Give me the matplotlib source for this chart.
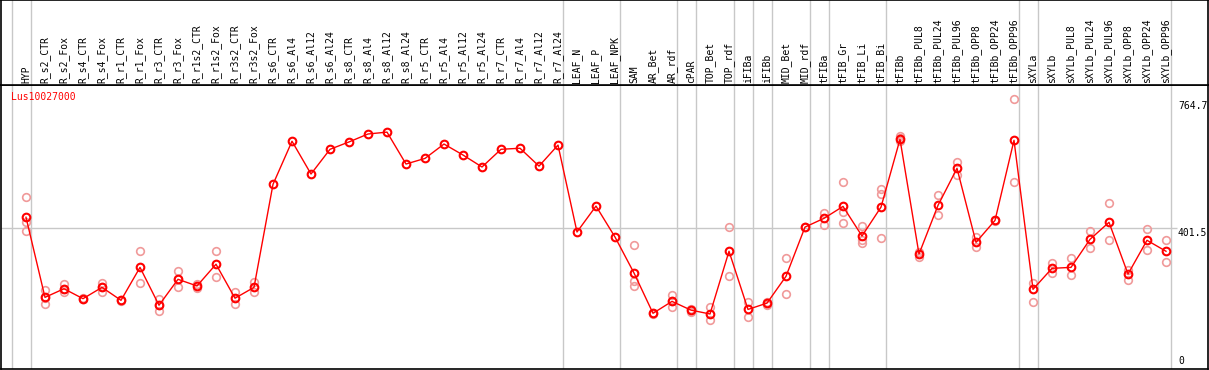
import matplotlib
matplotlib.use("Agg")
import matplotlib.pyplot as plt
import matplotlib.transforms as mtransforms


gene = "Lus10027000"

samples = ["HYP", "R_s2_CTR", "R_s2_Fox", "R_s4_CTR", "R_s4_Fox",
           "R_r1_CTR", "R_r1_Fox", "R_r3_CTR", "R_r3_Fox",
           "R_r1s2_CTR", "R_r1s2_Fox", "R_r3s2_CTR", "R_r3s2_Fox",
           "R_s6_CTR", "R_s6_Al4", "R_s6_Al12", "R_s6_Al24",
           "R_s8_CTR", "R_s8_Al4", "R_s8_Al12", "R_s8_Al24",
           "R_r5_CTR", "R_r5_Al4", "R_r5_Al12", "R_r5_Al24",
           "R_r7_CTR", "R_r7_Al4", "R_r7_Al12", "R_r7_Al24",
           "LEAF_N", "LEAF_P", "LEAF_NPK", "SAM", "AR_Bet", "AR_rdf",
           "cPAR", "TOP_Bet", "TOP_rdf", "iFIBa", "iFIBb",
           "MID_Bet", "MID_rdf", "tFIBa", "tFIB_Gr", "tFIB_Li", "tFIB_Bi",
           "tFIBb", "tFIBb_PUL8", "tFIBb_PUL24", "tFIBb_PUL96",
           "tFIBb_OPP8", "tFIBb_OPP24", "tFIBb_OPP96",
           "sXYLa", "sXYLb", "sXYLb_PUL8", "sXYLb_PUL24", "sXYLb_PUL96",
           "sXYLb_OPP8", "sXYLb_OPP24", "sXYLb_OPP96"]

means = [433, 204.5, 229, 200.7, 233, 196, 290, 182, 256, 237, 299, 202, 233,
         527, 650, 556.5, 627, 648, 670.7, 676, 585, 601, 642, 610.7, 576.5,
         627, 630, 579, 639, 391, 465, 376.7, 274, 159, 193, 168, 157, 336,
         170, 188, 264.5, 405, 430, 464, 379.6, 462, 655.5, 328, 467, 572.7,
         361.5, 424, 652.7, 227.4, 287.3, 290, 370, 418.6, 271, 367.3, 336]

replicates = [
    [490, 420, 394], [225, 184.5, 204], [242, 219, 228], [202, 199],
    [245, 220, 234], [198, 194], [336, 244.5], [199, 165.5, 182],
    [279, 233, 256], [243, 230], [337, 262], [219, 184.5], [247, 220],
    [], [], [], [], [], [], [], [], [], [], [], [], [], [], [], [],
    [], [], [],
    [354, 251, 237], [157, 161], [211, 176, 193], [162, 170], [176, 139],
    [405, 264.5], [191, 147.5], [183, 192], [316, 214], [404, 406],
    [446, 411], [533, 447, 416.7], [407, 368, 360], [513.7, 499, 373],
    [665, 660, 650], [320.5, 333], [495.7, 438.7], [590.7, 553.6],
    [377.6, 349], [422, 426], [770, 532.8], [246.4, 190.3], [302.5, 274.8],
    [316, 267.4], [393, 344.5], [472.9, 367.3], [282.5, 254],
    [398.7, 338.7], [367.3, 304.5]]

# last sample of each tissue group (grey separators)
group_ends = [-1, 0, 28, 31, 34, 35, 37, 38, 39, 41, 42, 45, 52, 53, 60]

y_ticks = [0, 401.5, 764.7]


W, H = 1209, 370
fig = plt.figure(figsize=(W / 100, H / 100), dpi=100)

# pixel -> index mapping: x = 26 + 19 * i
xlim = ((1 - 26) / 19, (1208 - 26) / 19)
ymax = 284 / 0.3504

ax = fig.add_axes([1 / W, 1 / H, 1207 / W, 284 / H])
head = fig.add_axes([1 / W, 285 / H, 1207 / W, 85 / H])

for a in (ax, head):
    a.set_xlim(xlim)
    a.set_xticks([])
    a.set_yticks([])
    for sp in a.spines.values():
        sp.set_color("black")
        sp.set_linewidth(1.2)
    for g in group_ends:
        a.axvline(g + 0.25, color="#c8c8c8", lw=1, zorder=0)

ax.set_ylim(0, ymax)
head.set_ylim(0, 1)

mono = "DejaVu Sans Mono"

# sample labels in the header
for i, name in enumerate(samples):
    head.text(i, 2 / 85, name, rotation=90, ha="center", va="bottom",
              fontsize=7, family=mono)

# horizontal grid + right side value labels
ax.hlines(401.5, xlim[0], (1177 - 26) / 19, color="#c8c8c8", lw=1, zorder=0)
tr = mtransforms.blended_transform_factory(fig.transFigure, ax.transData)
for v in y_ticks:
    if v == 0:
        ax.annotate("0", (1178 / W, 0), xycoords=tr, xytext=(0, 3),
                    textcoords="offset pixels", va="bottom", ha="left",
                    fontsize=7, family=mono)
    else:
        ax.text(1178 / W, v, f"{v}", transform=tr, va="top", ha="left",
                fontsize=7, family=mono)

# replicate points
for i, reps in enumerate(replicates):
    ax.plot([i] * len(reps), reps, ls="none", marker="o", ms=5.5,
            mfc="none", mec="#f09a9a", mew=1.2, zorder=2)

x = list(range(len(samples)))
ax.plot(x, means, color="red", lw=1, marker="o", ms=5.5, mfc="none",
        mec="red", mew=1.5, zorder=3)

ax.text(10 / W * (xlim[1] - xlim[0]) + xlim[0], ymax - 12 / 0.3504, gene,
        color="red", fontsize=7, family=mono, va="center", ha="left")

fig.savefig("out.png", dpi=100)
